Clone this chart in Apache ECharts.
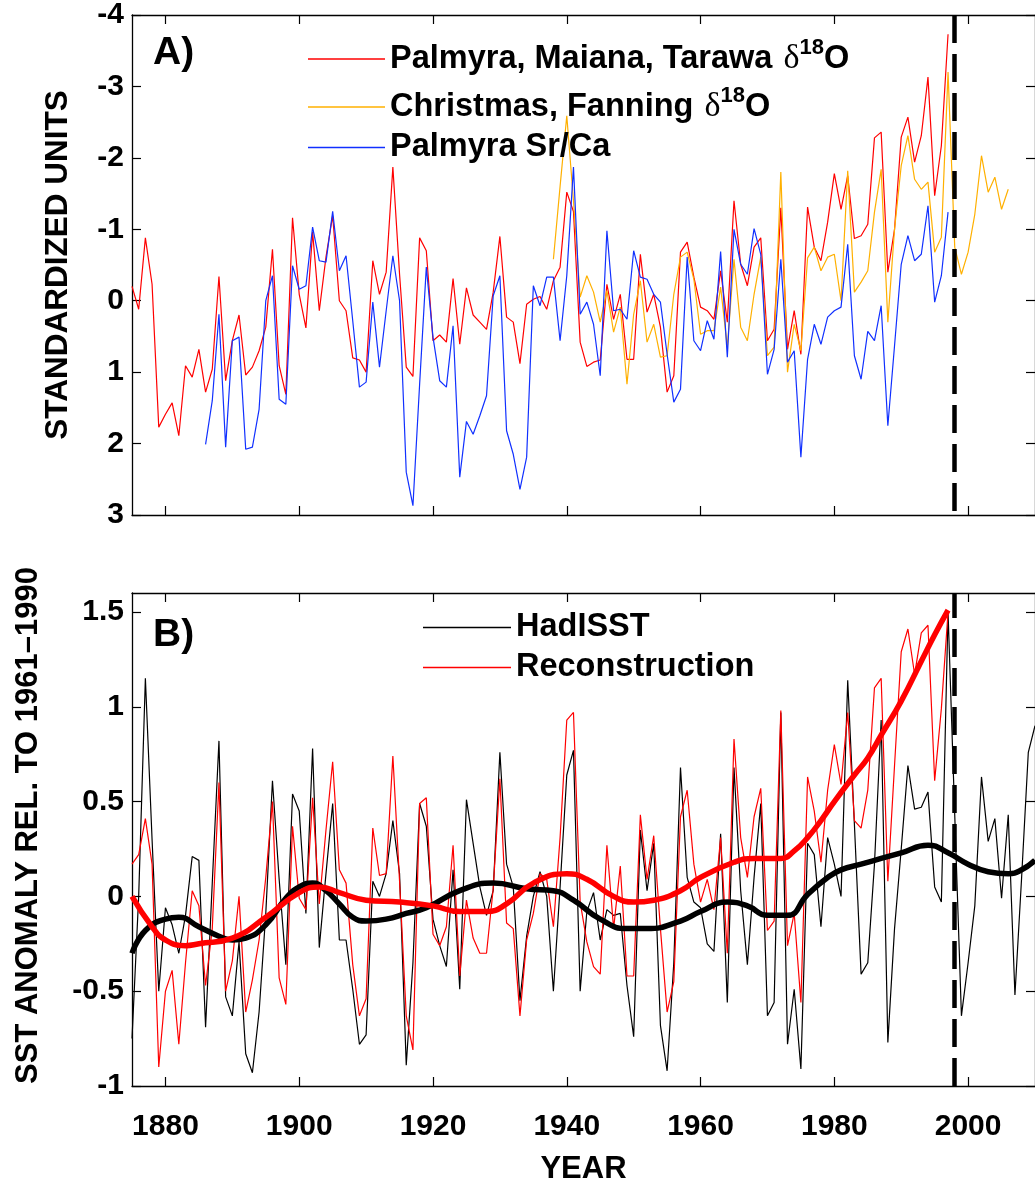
<!DOCTYPE html>
<html>
<head>
<meta charset="utf-8">
<title>Central Pacific coral records and SST</title>
<script src="https://cdn.jsdelivr.net/npm/echarts@6/dist/echarts.min.js"></script>
<style>
  html, body { margin: 0; padding: 0; background: #fff; }
  #chart { width: 1035px; height: 1186px; }
</style>
</head>
<body>
<div id="chart"></div>
<script>
// ---- data ----
const yearTicks = [1880, 1900, 1920, 1940, 1960, 1980, 2000];
const panelATicks = [-4, -3, -2, -1, 0, 1, 2, 3];
const panelBTicks = [-1, -0.5, 0, 0.5, 1, 1.5];
const breakYear = 1998;

// Panel A: standardized units, one value per year from the start year
const pmtStart = 1875;
const pmtO18 = [
  -0.2, 0.12, -0.88, -0.23, 1.77, 1.59, 1.43, 1.89, 0.91, 1.07,
  0.68, 1.28, 0.96, -0.34, 1.12, 0.56, 0.20, 1.04, 0.93, 0.70,
  0.37, -0.72, 0.91, 1.31, -1.16, -0.09, 0.38, -0.96, 0.14, -0.61,
  -1.19, 0.0, 0.14, 0.80, 0.83, 1.00, -0.56, -0.09, -0.40, -1.87,
  -0.37, 0.93, 1.06, -0.88, -0.70, 0.56, 0.48, 0.58, -0.31, 0.61,
  -0.18, 0.20, 0.30, 0.40, -0.12, -0.90, 0.23, 0.30, 0.88, 0.05,
  -0.02, -0.06, 0.12, -0.28, -0.47, -1.52, -1.25, 0.58, 0.92, 0.86,
  0.83, -0.23, 0.26, -0.09, 0.82, 0.82, -0.65, 0.16, -0.09, 0.37,
  1.28, 1.05, -0.68, -0.82, -0.33, 0.09, 0.14, 0.26, -0.42, 0.30,
  -1.40, -0.51, -0.21, -0.75, -0.88, 0.56, 0.40, -1.3, 0.68, 0.14,
  0.75, -1.31, -0.75, -0.56, -1.10, -1.78, -1.28, -1.75, -0.87, -0.91,
  -1.07, -2.28, -2.36, -0.40, -1.0, -2.29, -2.57, -1.94, -2.31, -3.13,
  -1.47, -2.17, -3.73
];
const cfStart = 1938;
const cfO18 = [
  -0.58, -1.6, -2.59, -1.4, -0.05, -0.35, -0.12, 0.30, -0.14, 0.44,
  0.09, 1.17, 0.19, -0.28, 0.58, 0.33, 0.79, 0.77, -0.09, -0.61,
  -0.68, -0.30, 0.47, 0.42, 0.42, -0.19, 0.65, -0.58, 0.37, 0.56,
  -0.09, -0.61, 0.77, 0.65, -1.80, 1.00, 0.33, 0.70, -0.60, -0.75,
  -0.42, -0.61, -0.65, 0.0, -1.82, -0.12, -0.26, -0.42, -1.24, -1.84,
  0.30, -1.00, -1.89, -2.31, -1.70, -1.56, -1.66, -0.68, -0.89, -3.20,
  -0.75, -0.37, -0.68, -1.21, -2.03, -1.52, -1.73, -1.28, -1.56
];
const srcaStart = 1886;
const palmyraSrCa = [
  2.01, 1.4, 0.19, 2.05, 0.56, 0.51, 2.08, 2.05, 1.52, 0.0,
  -0.35, 1.38, 1.45, -0.49, -0.16, -0.21, -1.03, -0.56, -0.54, -1.25,
  -0.42, -0.63, 0.28, 1.21, 1.14, 0.02, 0.93, 0.14, -0.63, 0.0,
  2.40, 2.87, 1.17, -0.47, 0.51, 1.12, 1.21, 0.35, 2.47, 1.69,
  1.87, 1.61, 1.33, -0.07, -0.35, 1.82, 2.15, 2.64, 2.19, -0.21,
  0.07, -0.33, -0.33, 0.56, -0.35, -1.87, 0.19, 0.02, 0.33, 1.05,
  -0.98, 0.14, 0.12, 0.26, -0.70, -0.33, -0.30, -0.09, 0.02, 0.75,
  1.42, 1.24, -0.61, 0.56, 0.70, 0.28, 0.54, -0.69, 0.79, -1.00,
  -0.51, -0.37, -1.01, -0.65, 1.03, 0.68, -0.58, 0.86, 0.70, 2.19,
  0.82, 0.33, 0.61, 0.23, 0.14, 0.09, -0.79, 0.77, 1.10, 0.43,
  0.56, 0.07, 1.75, 0.63, -0.51, -0.91, -0.56, -0.65, -1.33, 0.02,
  -0.35, -1.24
];

// Panel B: SST anomaly (deg C) relative to 1961-1990
const hadStart = 1875;
const hadisst = [
  -0.75, 0.0, 1.15, 0.3, -0.50, -0.06, -0.15, -0.30, -0.10, 0.21,
  0.19, -0.69, 0.07, 0.82, -0.53, -0.63, -0.24, -0.83, -0.93, -0.61,
  -0.09, 0.61, 0.09, -0.36, 0.54, 0.45, -0.09, 0.78, -0.27, 0.12,
  0.49, -0.23, -0.23, -0.49, -0.78, -0.73, 0.08, 0.0, 0.12, 0.40,
  0.12, -0.89, -0.35, 0.49, 0.37, -0.12, -0.26, -0.37, 0.14, -0.49,
  0.51, 0.28, 0.05, -0.10, 0.03, 0.76, 0.17, 0.05, -0.55, -0.21,
  0.0, 0.13, 0.0, -0.50, 0.05, 0.64, 0.77, -0.50, -0.08, 0.02,
  -0.23, -0.07, -0.10, -0.09, -0.47, -0.74, 0.35, 0.03, 0.28, -0.68,
  -0.92, -0.35, 0.68, 0.10, -0.03, -0.06, -0.25, -0.29, 0.33, -0.56,
  0.68, 0.03, -0.36, 0.10, 0.49, -0.63, -0.56, 0.97, -0.78, -0.49,
  -0.91, 0.28, 0.22, -0.16, 0.31, 0.17, 0.0, 1.14, 0.38, -0.41,
  -0.35, 0.17, 0.93, -0.77, -0.17, 0.25, 0.69, 0.46, 0.47, 0.55,
  0.05, -0.03, 1.50, 0.43, -0.63, -0.35, -0.05, 0.63, 0.29, 0.41,
  -0.01, 0.43, -0.52, 0.10, 0.76, 0.9
];
const reconStart = 1875;
const reconstruction = [
  0.17, 0.22, 0.41, 0.17, -0.90, -0.50, -0.39, -0.78, -0.35, 0.03,
  -0.05, -0.47, -0.17, 0.60, -0.50, -0.34, 0.0, -0.61, -0.44, -0.23,
  0.10, 0.50, -0.43, -0.57, 0.37, -0.01, -0.07, 0.52, -0.04, 0.35,
  0.71, 0.14, 0.07, -0.36, -0.63, -0.54, 0.36, 0.11, 0.12, 0.74,
  0.08, -0.63, -0.81, 0.49, 0.52, -0.20, -0.26, -0.16, 0.27, -0.42,
  -0.02, -0.22, -0.30, -0.30, 0.04, 0.62, -0.14, -0.17, -0.63, -0.23,
  -0.09, 0.12, 0.09, -0.16, 0.31, 0.93, 0.97, -0.03, -0.24, -0.37,
  -0.41, 0.27, -0.17, 0.16, -0.42, -0.42, 0.43, 0.09, 0.32, -0.17,
  -0.61, -0.45, 0.42, 0.56, 0.17, -0.03, 0.09, -0.07, 0.31, -0.30,
  0.83, 0.31, 0.10, 0.42, 0.57, -0.18, -0.13, 0.98, -0.26, -0.09,
  -0.56, 0.63, 0.45, 0.18, 0.56, 0.80, 0.59, 0.97, 0.40, 0.36,
  0.56, 1.10, 1.15, 0.08, 0.69, 1.29, 1.41, 1.17, 1.39, 1.43,
  0.61, 0.99, 1.50
];

// low-pass curves, sampled at irregular years
const hadSmoothYears = [1875, 1877, 1880, 1882, 1885, 1888, 1890, 1892, 1895, 1898, 1900, 1902, 1904, 1906, 1908, 1910, 1913, 1916, 1919, 1924, 1929, 1934, 1938, 1941, 1945, 1949, 1952, 1957, 1960, 1964, 1967, 1970, 1973, 1976, 1979, 1981, 1984, 1987, 1990, 1994, 1997, 2000, 2003, 2006, 2008, 2010];
const hadSmooth = [-0.30, -0.18, -0.12, -0.11, -0.16, -0.21, -0.23, -0.22, -0.15, -0.01, 0.05, 0.07, 0.03, -0.04, -0.11, -0.13, -0.12, -0.09, -0.06, 0.03, 0.07, 0.04, 0.03, -0.02, -0.12, -0.17, -0.17, -0.13, -0.08, -0.03, -0.05, -0.10, -0.10, 0.01, 0.10, 0.14, 0.17, 0.20, 0.23, 0.27, 0.23, 0.17, 0.13, 0.12, 0.14, 0.19];
const reconSmoothYears = [1875, 1878, 1880, 1883, 1885, 1890, 1895, 1900, 1903, 1906, 1910, 1915, 1920, 1924, 1928, 1931, 1935, 1940, 1943, 1947, 1950, 1953, 1957, 1960, 1965, 1968, 1972, 1974, 1976, 1978, 1980, 1983, 1985, 1987, 1990, 1993, 1995, 1997];
const reconSmooth = [0.0, -0.16, -0.23, -0.26, -0.25, -0.22, -0.11, 0.02, 0.05, 0.02, -0.02, -0.03, -0.05, -0.08, -0.08, -0.04, 0.07, 0.12, 0.09, 0.0, -0.03, -0.02, 0.03, 0.10, 0.18, 0.20, 0.20, 0.24, 0.31, 0.40, 0.50, 0.64, 0.73, 0.85, 1.03, 1.24, 1.38, 1.51];

// ---- helpers ----
const FONT = '"Liberation Sans", Arial, Helvetica, sans-serif';
const SERIF = '"Liberation Serif", "DejaVu Serif", serif';

function byYear(start, vals) {
  return vals.map((v, i) => [start + i, v]);
}
function zip(xs, ys) {
  return xs.map((x, i) => [x, ys[i]]);
}

const thin = (color) => ({ color: color, width: 1.2 });

const breakLine = {
  silent: true,
  symbol: 'none',
  label: { show: false },
  lineStyle: { color: '#000', width: 4.5, type: [28, 11] },
  data: [{ xAxis: breakYear }]
};

function xAxisFor(grid, pos, labels) {
  return {
    type: 'value', gridIndex: grid, position: pos,
    min: 1875, max: 2010,
    axisLine: { onZero: false, lineStyle: { color: '#000', width: 1.3 } },
    axisTick: { inside: true, length: 9, customValues: yearTicks, lineStyle: { color: '#000', width: 1.2 } },
    axisLabel: labels ? {
      customValues: yearTicks, margin: 26, color: '#000',
      fontFamily: FONT, fontSize: 30, fontWeight: 'bold',
      formatter: (v) => String(v)
    } : { show: false },
    splitLine: { show: false }
  };
}

function yAxisFor(grid, pos, ticks, min, max, inverse, labels) {
  return {
    type: 'value', gridIndex: grid, position: pos,
    min: min, max: max, inverse: inverse,
    axisLine: { onZero: false, lineStyle: { color: '#000', width: 1.3 } },
    axisTick: { inside: true, length: 9, customValues: ticks, lineStyle: { color: '#000', width: 1.2 } },
    axisLabel: labels ? {
      customValues: ticks, margin: 8, color: '#000',
      fontFamily: FONT, fontSize: 30, fontWeight: 'bold',
      formatter: (v) => String(v)
    } : { show: false },
    splitLine: { show: false }
  };
}

const legendText = {
  fontFamily: FONT, fontSize: 32.5, fontWeight: 'bold', color: '#000',
  rich: {
    t: { fontFamily: FONT, fontSize: 32.5, fontWeight: 'bold', color: '#000', lineHeight: 44 },
    d: { fontFamily: SERIF, fontSize: 34, fontWeight: 'normal', color: '#000', lineHeight: 44, padding: [0, 0, 0, 2] },
    s: { fontFamily: FONT, fontSize: 22, fontWeight: 'bold', color: '#000', lineHeight: 21, verticalAlign: 'top' }
  }
};

function legendLabel(name) {
  const k = name.indexOf('δ18O');
  if (k < 0) return '{t|' + name + '}';
  return '{t|' + name.slice(0, k) + '}{d|δ}{s|18}{t|O}';
}

function legendRow(name, left, top, width) {
  return {
    data: [name], left: left, top: top, padding: 0,
    orient: 'vertical', icon: 'rect', itemWidth: width, itemHeight: 1.6,
    selectedMode: false, textStyle: legendText, formatter: legendLabel
  };
}

const nameA = 'Palmyra, Maiana, Tarawa δ18O';
const nameC = 'Christmas, Fanning δ18O';
const nameS = 'Palmyra Sr/Ca';

const option = {
  animation: false,
  backgroundColor: '#fff',
  title: [
    { text: 'A)', left: 153, top: 34, padding: 0, textStyle: { fontFamily: FONT, fontSize: 39, fontWeight: 'bold', color: '#000' } },
    { text: 'B)', left: 153, top: 616, padding: 0, textStyle: { fontFamily: FONT, fontSize: 39, fontWeight: 'bold', color: '#000' } }
  ],
  legend: [
    legendRow(nameA, 308, 37, 77),
    legendRow(nameC, 308, 85, 77),
    legendRow(nameS, 308, 131, 77),
    legendRow('HadISST', 423, 611, 88),
    legendRow('Reconstruction', 423, 651, 88)
  ],
  grid: [
    { left: 132, right: -5, top: 15, height: 500 },
    { left: 132, right: -5, top: 593, height: 499 }
  ],
  xAxis: [
    xAxisFor(0, 'bottom', false),
    xAxisFor(0, 'top', false),
    Object.assign(xAxisFor(1, 'bottom', true), {
      name: 'YEAR', nameLocation: 'middle', nameGap: 68,
      nameTextStyle: { fontFamily: FONT, fontSize: 31, fontWeight: 'bold', color: '#000' }
    }),
    xAxisFor(1, 'top', false)
  ],
  yAxis: [
    Object.assign(yAxisFor(0, 'left', panelATicks, -4, 3, true, true), {
      name: 'STANDARDIZED UNITS', nameLocation: 'middle', nameRotate: 90, nameGap: 58,
      nameTextStyle: { fontFamily: FONT, fontSize: 31.5, fontWeight: 'bold', color: '#000' }
    }),
    yAxisFor(0, 'right', panelATicks, -4, 3, true, false),
    Object.assign(yAxisFor(1, 'left', panelBTicks, -1, 1.6, false, true), {
      name: 'SST ANOMALY REL. TO 1961–1990', nameLocation: 'middle', nameRotate: 90, nameGap: 88,
      nameTextStyle: { fontFamily: FONT, fontSize: 31, fontWeight: 'bold', color: '#000', padding: [0, 0, 0, 28] }
    }),
    yAxisFor(1, 'right', panelBTicks, -1, 1.6, false, false)
  ],
  series: [
    {
      name: nameA, type: 'line', xAxisIndex: 0, yAxisIndex: 0,
      data: byYear(pmtStart, pmtO18), symbol: 'none',
      lineStyle: thin('#ff0000'), itemStyle: { color: '#ff0000' },
      markLine: breakLine
    },
    {
      name: nameC, type: 'line', xAxisIndex: 0, yAxisIndex: 0,
      data: byYear(cfStart, cfO18), symbol: 'none',
      lineStyle: thin('#ffb000'), itemStyle: { color: '#ffb000' }
    },
    {
      name: nameS, type: 'line', xAxisIndex: 0, yAxisIndex: 0,
      data: byYear(srcaStart, palmyraSrCa), symbol: 'none',
      lineStyle: thin('#1030ff'), itemStyle: { color: '#1030ff' }
    },
    {
      name: 'HadISST', type: 'line', xAxisIndex: 2, yAxisIndex: 2,
      data: byYear(hadStart, hadisst), symbol: 'none',
      lineStyle: thin('#000000'), itemStyle: { color: '#000000' },
      markLine: breakLine
    },
    {
      name: 'Reconstruction', type: 'line', xAxisIndex: 2, yAxisIndex: 2,
      data: byYear(reconStart, reconstruction), symbol: 'none',
      lineStyle: thin('#ff0000'), itemStyle: { color: '#ff0000' }
    },
    {
      name: 'HadISST smooth', type: 'line', xAxisIndex: 2, yAxisIndex: 2,
      data: zip(hadSmoothYears, hadSmooth), symbol: 'none', smooth: 0.5,
      lineStyle: { color: '#000', width: 5.5 }, itemStyle: { color: '#000' }
    },
    {
      name: 'Reconstruction smooth', type: 'line', xAxisIndex: 2, yAxisIndex: 2,
      data: zip(reconSmoothYears, reconSmooth), symbol: 'none', smooth: 0.5,
      lineStyle: { color: '#ff0000', width: 5.5 }, itemStyle: { color: '#ff0000' }
    }
  ]
};

const chart = echarts.init(document.getElementById('chart'), null, { renderer: 'canvas' });
chart.setOption(option);

window.addEventListener('resize', function () {
  chart.resize();
});
</script>
</body>
</html>
